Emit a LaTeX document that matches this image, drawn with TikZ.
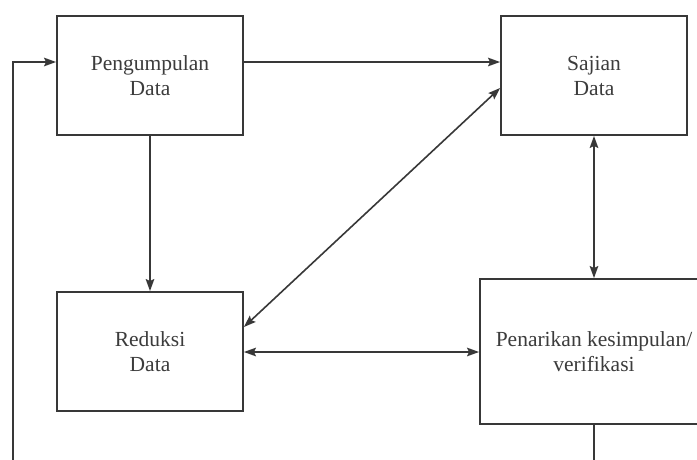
\documentclass[tikz,border=0pt]{standalone}
\usepackage{fontspec}
\setmainfont{Liberation Serif}
\usetikzlibrary{arrows.meta}
\definecolor{linec}{HTML}{383838}
\definecolor{textc}{HTML}{3C3C3C}
\begin{document}
\begin{tikzpicture}[x=1pt,y=-1pt,
  box/.style={draw=linec, line width=1.8pt, rectangle, inner sep=0pt, align=center,
    text=textc, font=\fontsize{21.5}{25}\selectfont},
  conn/.style={draw=linec, line width=1.6pt},
  tip/.style={-{Stealth[length=12pt,width=8.5pt,inset=2pt]}},
  tips/.style={{Stealth[length=12pt,width=8.5pt,inset=2pt]}-{Stealth[length=12pt,width=8.5pt,inset=2pt]}}]
\useasboundingbox (0,0) rectangle (697,459);
\clip (0,0) rectangle (697,459);
\fill[white] (0,0) rectangle (697,459);
\node[box, minimum width=186pt, minimum height=119pt] (peng) at (150,75.5) {Pengumpulan\\Data};
\node[box, minimum width=186pt, minimum height=119pt] (saj) at (594,75.5) {Sajian\\Data};
\node[box, minimum width=186pt, minimum height=119pt] (red) at (150,351.5) {Reduksi\\Data};
\node[box, minimum width=228pt, minimum height=145pt] (pen) at (594,351.5) {Penarikan kesimpulan/\\verifikasi};
\coordinate (fb) at (13,475);
\draw[conn, tip] (peng.east |- 0,62) -- (saj.west |- 0,62);
\draw[conn, tips] (red.east |- 0,327) -- (saj.west |- 0,88);
\draw[conn, tip] (peng.south) -- (red.north);
\draw[conn, tips] (saj.south) -- (pen.north);
\draw[conn, tips] (red.east |- 0,352) -- (pen.west |- 0,352);
\draw[conn, tip] (pen.south) |- (fb) |- (peng.west |- 0,62);
\end{tikzpicture}
\end{document}
